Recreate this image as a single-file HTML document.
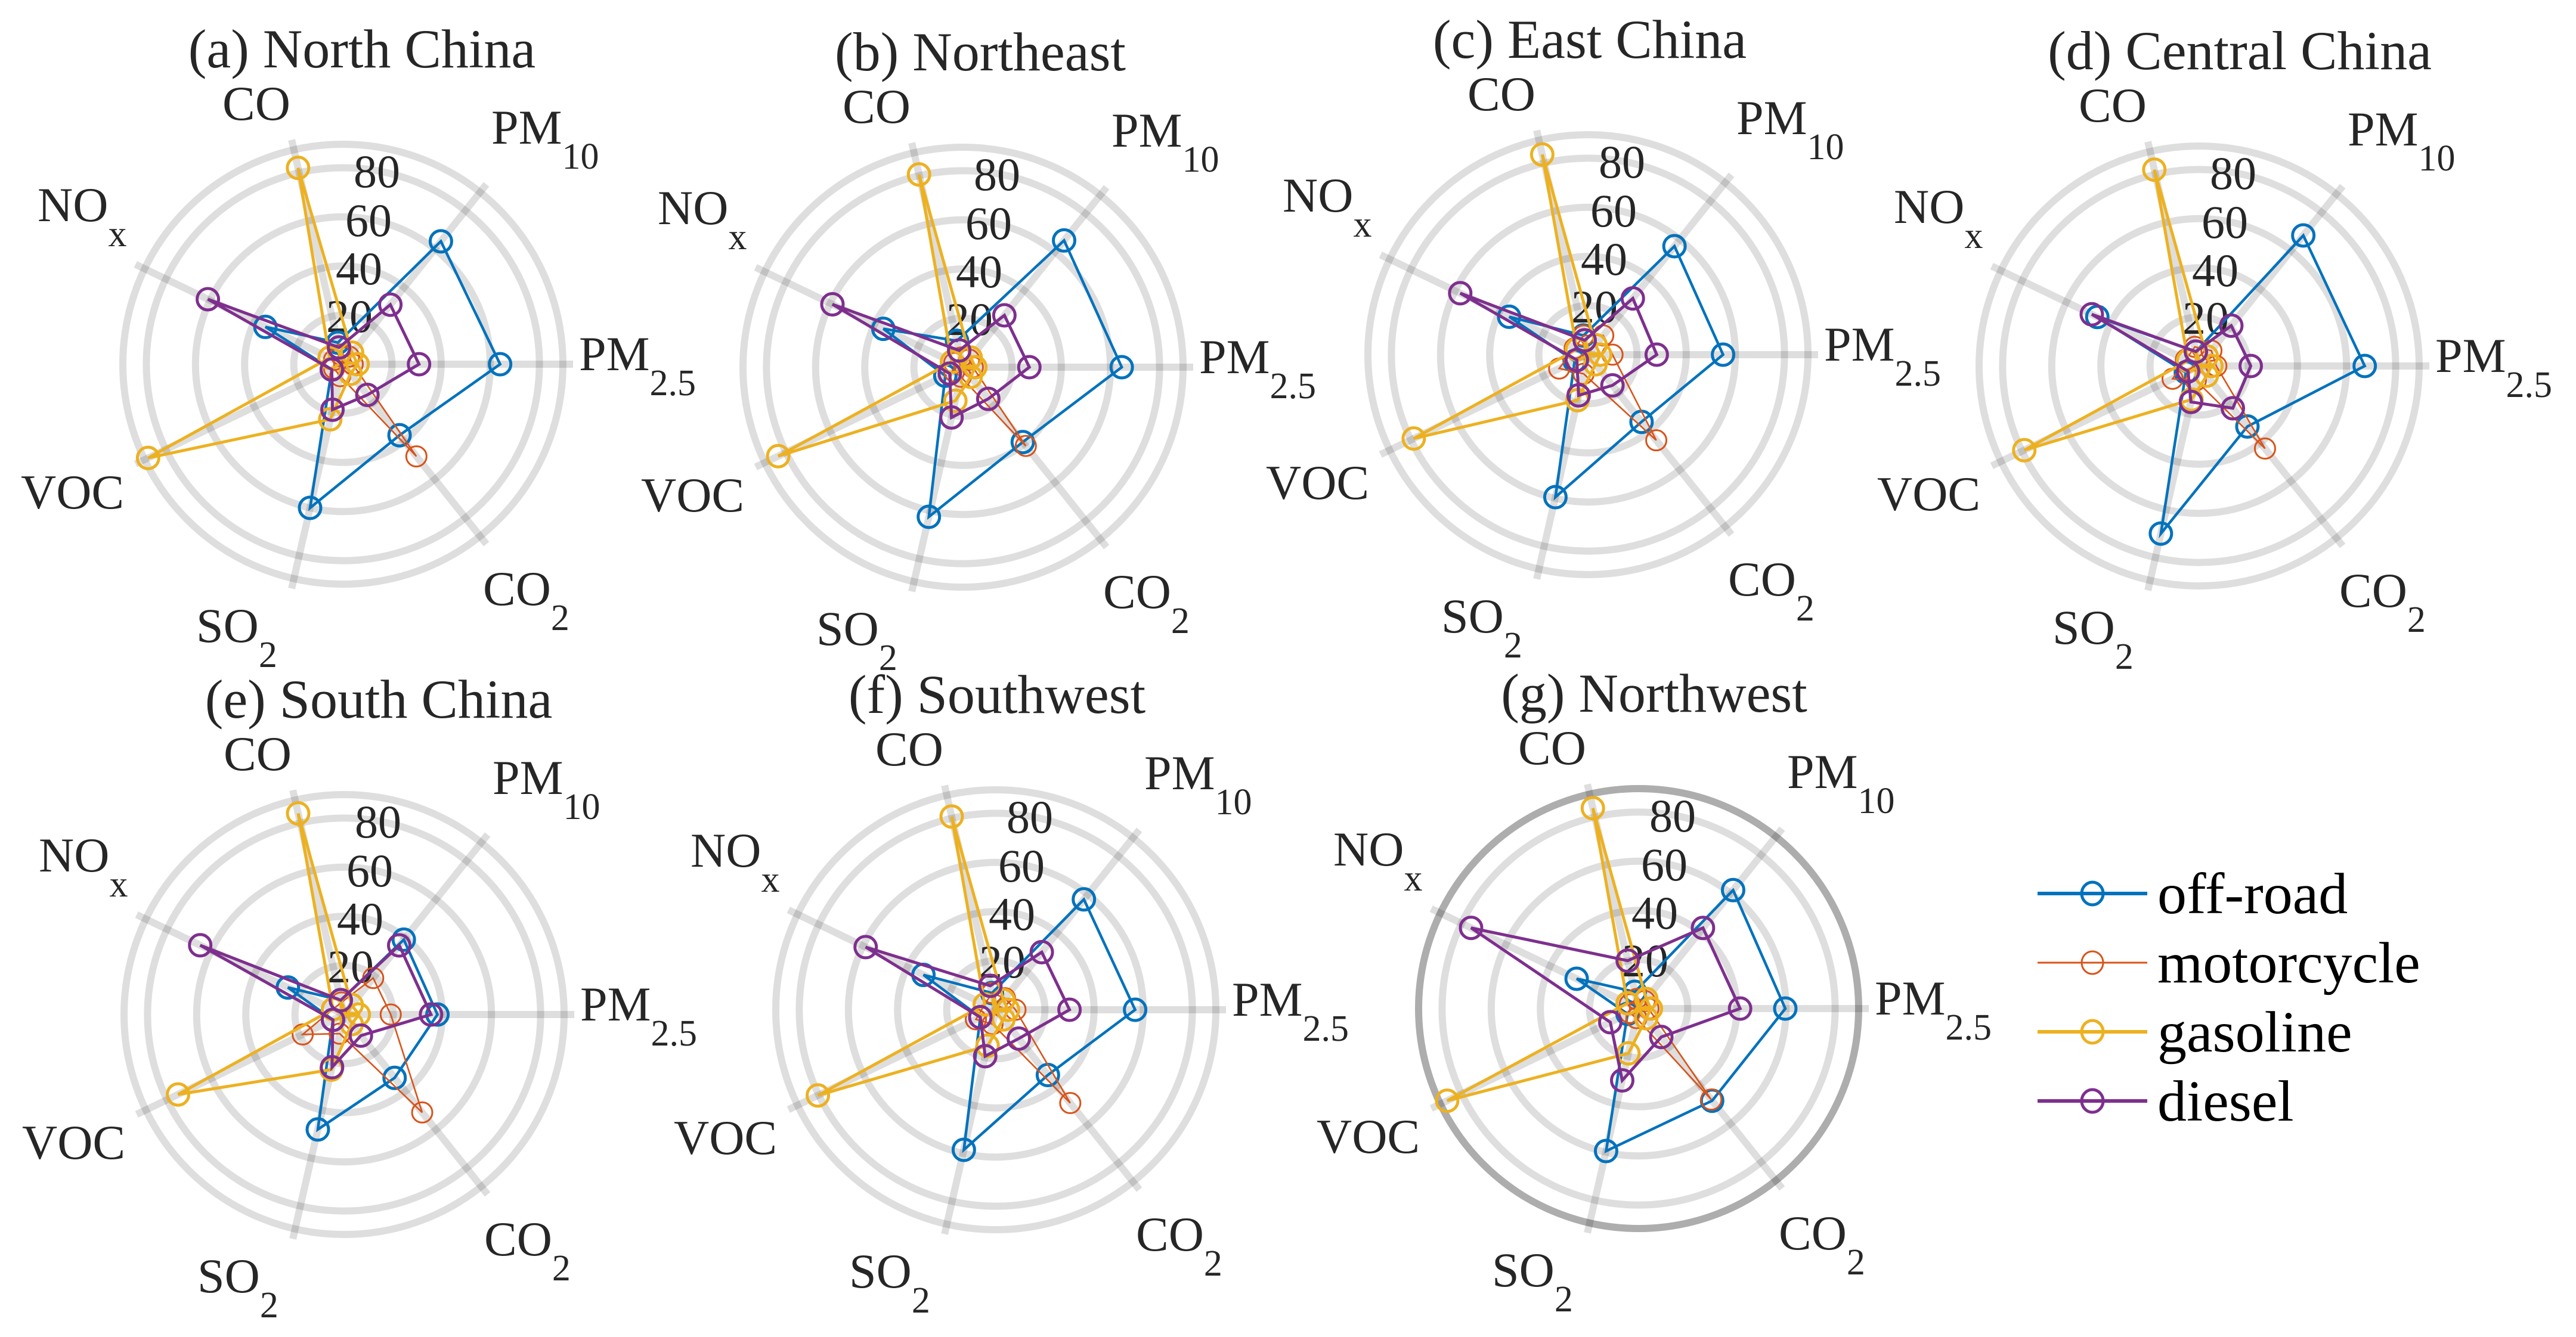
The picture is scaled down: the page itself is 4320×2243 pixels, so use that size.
<!DOCTYPE html>
<html><head><meta charset="utf-8"><style>
html,body{margin:0;padding:0;background:#fff;font-family:"Liberation Serif",serif;}
svg{display:block;}
text,tspan{font-family:"Liberation Serif","DejaVu Serif",serif !important;}
</style></head><body>
<svg id="s" xmlns="http://www.w3.org/2000/svg" width="4320" height="2243" viewBox="0 0 4320 2243" fill="#262626" font-family="Liberation Serif, serif"></svg>
<script>
var S=document.getElementById('s');
var NS='http://www.w3.org/2000/svg';
function el(t,a,txt){var e=document.createElementNS(NS,t);for(var k in a)e.setAttribute(k,a[k]);if(t=='text'){e.setAttribute('font-family','Liberation Serif, DejaVu Serif, serif');e.style.fontFamily='"Liberation Serif", "DejaVu Serif", serif';}if(txt!==undefined)e.textContent=txt;S.appendChild(e);return e;}
var U=4.12;
var cols=['#0072BD','#D95319','#EDB120','#7E2F8E'];
var lw=[4.5,2.6,5,5], mw=[5,3,5,5];
var panels=[
 {t:'(a) North China',cx:575,cy:611,tx:32,d:[
  [64,64,9,35,5,60,37],[4,4,4,4,4,5,48],[6,6,82,6,88,23,5],[31,31,7,61,5,19,16]]},
 {t:'(b) Northeast',cx:1615,cy:616,tx:29,d:[
  [64.6,66,11,36,8,62.5,39],[4,4,4,4,4,4,41],[5,5,80.5,5,83.5,14,5],[27,27,7,59,6,21,16.5]]},
 {t:'(c) East China',cx:2663,cy:595,tx:3,d:[
  [55,56.5,8,35.6,6,59.5,35],[10,10,8,6,13,8,44.6],[5,5,83.6,5,78.7,19,5],[28,29.3,6,57.7,5,17,16]]},
 {t:'(d) Central China',cx:3688,cy:614,tx:68,d:[
  [67.4,68,6,46,6,70,31.5],[7,8,8,6,12,6,43],[5,5,82,5,79,14,5],[21,21,6,48.5,5,15,22]]},
 {t:'(e) South China',cx:577,cy:1702,tx:58,d:[
  [38,39,6,25.4,5,48,33],[19,19,5,5,18.7,8,51],[6,5,84,5,75,23,5],[35.4,36,6,65,5,22,11]]},
 {t:'(f) Southwest',cx:1670,cy:1694,tx:2,d:[
  [56.7,57.5,7,32.7,7,58.5,34],[8,6,7,5,9,6,48.6],[5,5,80.7,5,80.4,15,5],[30,30,10,58.8,7,19.4,15]]},
 {t:'(g) Northwest',cx:2748,cy:1692,tx:26,dark:true,d:[
  [59.7,61.7,7,28,5,59.5,48],[4,4,4,4,4,4,47.4],[5,5,83.7,5,86.5,18.7,5],[41.3,42,20,75.7,12.8,30,14.8]]}
];
var labs=[
 ['CO','',-202,-410],['PM','10',249,-370],['NO','x',-512,-240],['PM','2.5',396,10],
 ['VOC','',-540,242],['SO','2',-246,466],['CO','2',235,404]
];
var grid='rgba(0,0,0,0.13)';
panels.forEach(function(p){
 var cx=p.cx,cy=p.cy;
 [20,40,60,80].forEach(function(v){el('circle',{cx:cx,cy:cy,r:v*U,fill:'none',stroke:grid,'stroke-width':12});});
 el('circle',{cx:cx,cy:cy,r:369,fill:'none',stroke:p.dark?'rgba(0,0,0,0.32)':grid,'stroke-width':12});
 for(var k=0;k<7;k++){var a=k*2*Math.PI/7;
  el('line',{x1:cx,y1:cy,x2:cx+386*Math.cos(a),y2:cy-386*Math.sin(a),stroke:grid,'stroke-width':12});}
 [['20',-28,-54],['40',-12,-134],['60',4,-215],['80',18,-297]].forEach(function(t){
  el('text',{x:cx+t[1],y:cy+t[2],'font-size':78},t[0]);});
 el('text',{x:cx+p.tx,y:cy-498,'font-size':92,'text-anchor':'middle'},p.t);
 labs.forEach(function(l){
  var t=el('text',{x:cx+l[2],y:cy+l[3],'font-size':82});
  var a=document.createElementNS(NS,'tspan');a.textContent=l[0];t.appendChild(a);
  if(l[1]){var b=document.createElementNS(NS,'tspan');b.setAttribute('dy','42');b.setAttribute('font-size','62');b.textContent=l[1];t.appendChild(b);}
 });
 p.d.forEach(function(vals,si){
  var pts=vals.map(function(v,k){var a=k*2*Math.PI/7;return [cx+v*U*Math.cos(a),cy-v*U*Math.sin(a)];});
  el('polygon',{points:pts.map(function(q){return q[0].toFixed(1)+','+q[1].toFixed(1);}).join(' '),fill:'none',stroke:cols[si],'stroke-width':lw[si],'stroke-linejoin':'miter'});
  pts.forEach(function(q){el('circle',{cx:q[0],cy:q[1],r:si==1?17:18,fill:'none',stroke:cols[si],'stroke-width':mw[si]});});
 });
});
var names=['off-road','motorcycle','gasoline','diesel'];
var ly=[1499,1615,1731,1847];
names.forEach(function(n,i){
 el('line',{x1:3417,y1:ly[i],x2:3601,y2:ly[i],stroke:cols[i],'stroke-width':i==1?3:6});
 el('ellipse',{cx:3509,cy:ly[i],rx:18,ry:19,fill:'none',stroke:cols[i],'stroke-width':i==1?3:5});
 el('text',{x:3618,y:ly[i]+33,'font-size':98,fill:'#000'},n);
});
</script>
</body></html>
